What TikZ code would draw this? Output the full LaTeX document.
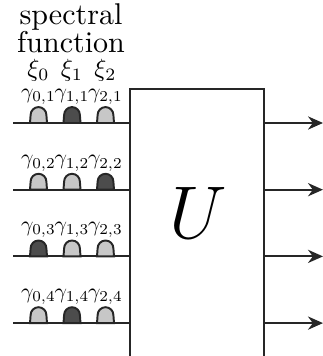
\documentclass[tikz,border=0pt]{standalone}
\usetikzlibrary{arrows.meta}
\begin{document}
\begin{tikzpicture}[x=0.333pt,y=0.333pt,line width=0.65pt,
		light/.style={draw=black!85,fill=black!22},
		dark/.style={draw=black!85,fill=black!70},
		wire/.style={draw=black!85},
		outwire/.style={draw=black!85,-{Stealth[length=5pt,width=4.4pt]}},
		smalllabel/.style={inner sep=0pt,scale=0.72,transform shape}]
	\useasboundingbox (0,0) rectangle (323,356);
	\clip (0,0) rectangle (323,356);
	\node[draw=black!85,minimum width=44.6pt,minimum height=92.2pt,inner sep=0pt] (box) at (197,128.5) {};
	\node (U) at (198,143) {\Huge $U$};
	\node[align=center,inner sep=0pt] (title) at (71,328) {spectral\\[-2.8pt]function};
	\foreach \j in {0,1,2}{
			\node[smalllabel,scale=1.15] (xi\j) at (38.5+33.5*\j,285.5) {$\xi_\j$};
		}
	\foreach \i/\d in {1/1,2/2,3/0,4/1}{
			\pgfmathsetmacro\y{233-(\i-1)*66.7}
			\coordinate (in\i) at (13,\y);
			\coordinate (out\i) at (323,\y);
			\draw[wire] (in\i) -- (in\i -| box.west);
			\draw[outwire] (out\i -| box.east) -- (out\i);
			\foreach \j in {0,1,2}{
					\ifnum\j=\d \def\hs{dark}\else \def\hs{light}\fi
					\coordinate (h\j\i) at (38.5+33.5*\j,\y);
					\draw[\hs] (h\j\i) ++(-8.5,0) -- ++(0.6,8) arc[start angle=180,end angle=0,radius=7.9] -- ++(0.6,-8) -- cycle;
					\node[smalllabel,anchor=south] (g\j\i) at ([yshift=18pt*0.333] h\j\i) {$\gamma_{\j,\i}$};
				}
		}
\end{tikzpicture}
\end{document}
